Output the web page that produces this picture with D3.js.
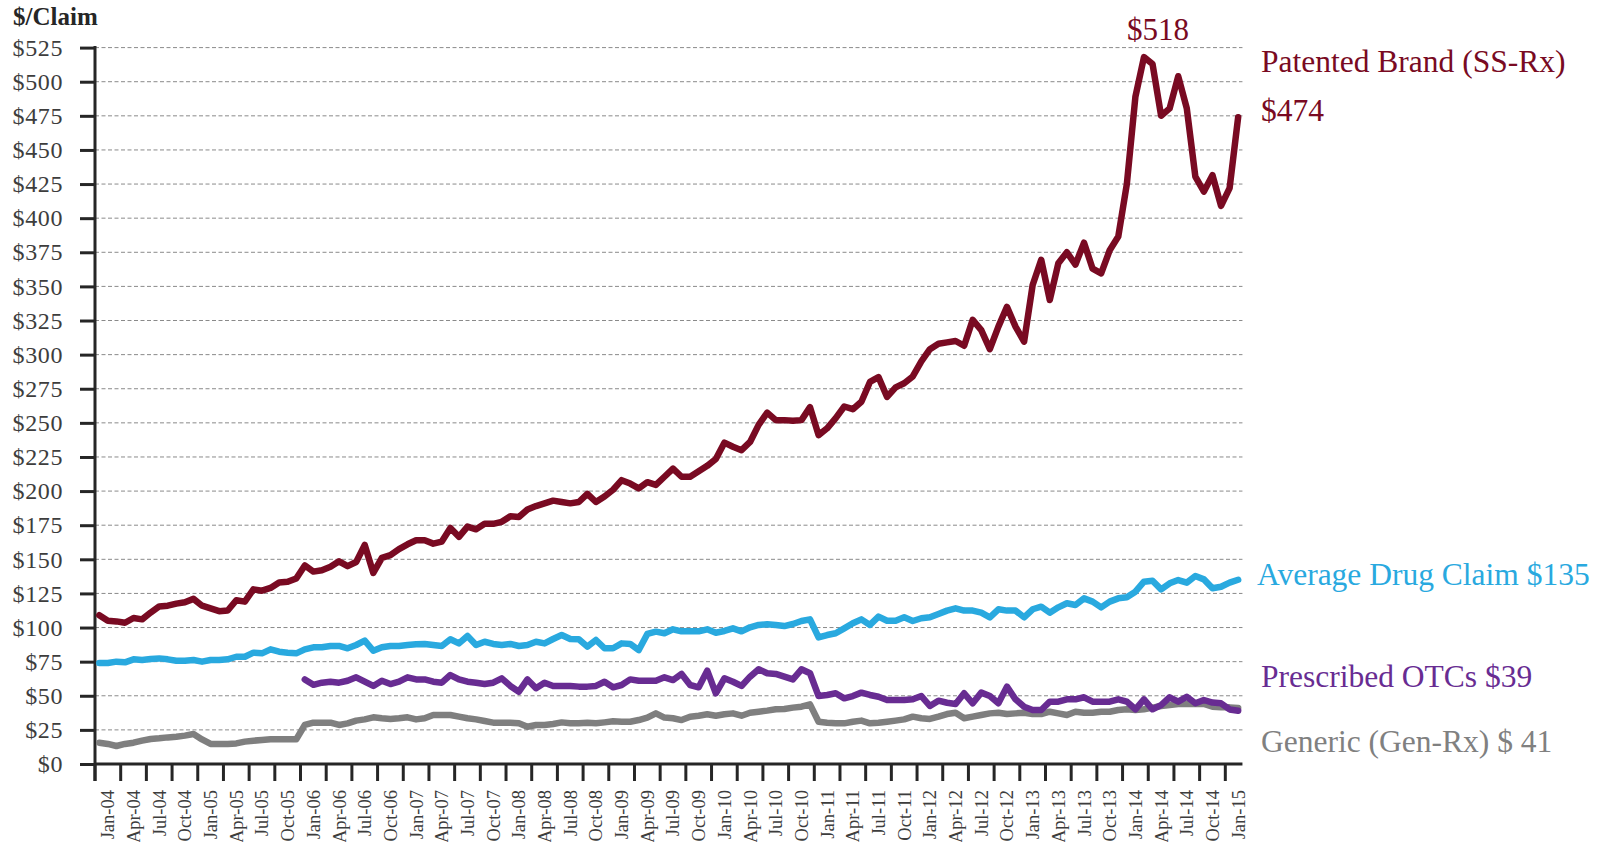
<!DOCTYPE html>
<html>
<head>
<meta charset="utf-8">
<script src="https://cdn.jsdelivr.net/npm/d3@7"></script>
<style>
  body { margin: 0; background: #fff; }
  text { font-family: "Liberation Serif", "Times New Roman", serif; }
</style>
</head>
<body>
<div id="chart"></div>
<script>
// monthly categories, Jan-04 .. Feb-15
var months = d3.timeMonth.range(new Date(2004, 0, 1), new Date(2015, 2, 1));

// $/claim, patented brand (SS-Rx)
var patented = [109,105,104.5,103.5,107,106,111,115.5,116,117.5,118.5,121,
  116,114,112,112.5,120,119,128,127,129,133,133.5,136,
  145.5,141,142,144.5,148.5,145,148,160.5,140,151,153,157.5,
  161,164,164,161.5,163,173,166.5,174,172,176,176,177.5,
  181.5,181,186.5,189,191,193,192,191,192,198,192,196,
  201,208,205.5,202,206.5,204.5,210.5,216.5,210.5,210.5,214.5,218.5,
  223.5,235.5,232.5,230,236,248.5,257.5,252,252,251.5,252,261.5,
  241,246,253.5,262,260,265.5,280,283.5,269,276,279,284,
  295,304,308,309,310,306.5,325.5,318,304,320.5,335,320.5,
  309.5,351,369.5,340,367,375,366,382,363,359.5,376.5,386.5,
  425,489,518,513,475,480.5,504,480.5,430.5,419.5,431.5,409,
  422,474];

// average drug claim
var average = [74,74,75,74.5,76.7,76.2,77,77.4,76.7,75.7,75.7,76.2,
  75,76.2,76.2,76.7,78.6,78.6,81.6,81.1,84,82.3,81.6,81.1,
  84,85.5,85.5,86.5,86.5,84.8,87.2,90.4,83,85.5,86.5,86.5,
  87.2,87.7,88,87.2,86.5,91.4,88.4,93.8,87.2,89.6,88,87.2,
  88,86.5,87.2,89.6,88.4,91.6,94.5,91.6,91.4,86,90.9,84.8,
  84.8,88.4,88,83.5,95.3,97,95.8,98.7,97.2,97.2,97.2,98.7,
  96.2,97.5,99.4,97.2,100.2,101.9,102.4,101.9,101.1,102.6,104.8,106,
  92.8,94.5,95.8,99.4,103.1,106,101.9,108,105,105,107.5,104.8,
  106.8,107.5,109.9,112.4,114.1,112.4,112.4,110.9,107.5,113.4,112.4,112.4,
  107.5,113.4,115.3,110.9,114.8,117.8,116.5,121.4,119,114.8,119,121.4,
  122.2,126.3,133.6,134.3,128,132.4,134.8,132.9,137.8,135.3,128.8,129.9,
  132.9,135];

// generic (Gen-Rx)
var generic = [15.6,14.7,13.2,14.7,15.6,17.1,18.3,18.8,19.5,20,20.8,22,
  18,14.7,14.7,14.7,15.1,16.4,17.1,17.6,18.1,18.1,18.1,18.1,
  28.6,30.3,30.3,30.3,28.6,29.8,31.8,32.7,34.2,33.5,33,33.5,
  34.2,32.7,33.5,35.9,35.9,35.9,34.7,33.5,32.7,31.5,30.3,30.3,
  30.3,29.8,27.3,28.6,28.6,29.3,30.5,29.8,29.8,30.3,29.8,30.5,
  31.3,31,31,32.2,34,37.1,34,33.5,32.2,34.7,35.4,36.4,
  35.4,36.4,37.1,35.4,37.6,38.3,39.1,40.1,40.3,41.3,42,43.7,
  31,30.3,29.8,29.8,31,31.8,29.8,30.3,31,31.8,32.7,34.7,
  33.5,33,34.7,36.6,37.6,33.5,34.7,35.9,37.1,37.6,36.6,37.1,
  37.6,36.6,36.6,38.3,37.1,35.9,38.3,37.6,37.6,38.3,38.3,39.6,
  40.1,39.6,40.1,41.3,42.5,43.2,44,44,44,44,42,41.5,
  41.5,41];

// prescribed OTCs, starts Jan-06
var otcStart = 24;
var otc = [62,58,59.6,60.3,59.6,61,63.5,60.3,57.2,61,58.6,60.3,
  63.5,62,62,60.3,59.6,65.2,62,60.3,59.6,58.6,59.6,62.8,
  57.2,53,62,55.5,59.6,57.2,57.2,57.2,56.7,56.7,57.2,60.3,
  56.2,57.9,62,61,61,61,63.5,61.5,66,57.9,56.2,68.4,
  51.8,62.8,60.3,57.2,64,69.4,66.5,66,64,62,69.4,66.5,
  49.8,50.6,51.8,48.1,49.8,52.3,50.6,49.3,46.9,46.9,46.9,47.4,
  49.8,42.5,46.4,44.9,44,51.8,44.5,52.3,49.8,44.5,56.7,47.4,
  42,39.6,39.6,45.7,45.7,47.4,47.4,48.9,45.7,45.7,45.7,47.4,
  45.7,40.1,47.4,40.1,43.2,48.9,45.7,49.3,44.5,46.9,45,44.5,
  40,39];

var yTicks = d3.range(0, 526, 25);

var width = 1598, height = 842;
var plotLeft = 95, plotRight = 95 + months.length * 8.563, plotTop = 47.6, plotBottom = 764;

var svg = d3.select("#chart").append("svg")
    .attr("width", width)
    .attr("height", height);

var x = d3.scaleBand()
    .domain(d3.range(months.length))
    .range([plotLeft, plotRight]);
var bw = x.bandwidth();

var y = d3.scaleLinear()
    .domain([0, 525])
    .range([plotBottom, plotTop]);

// dashed gridlines
svg.selectAll("line.grid")
    .data(yTicks.filter(function (d) { return d > 0; }))
    .enter()
    .append("line")
    .attr("x1", plotLeft)
    .attr("x2", plotRight)
    .attr("y1", function (d) { return y(d); })
    .attr("y2", function (d) { return y(d); })
    .attr("stroke", "#8a8a8a")
    .attr("stroke-width", 1)
    .attr("stroke-dasharray", "4,2.5");

// y axis
var yAxis = svg.append("g")
    .attr("transform", "translate(" + plotLeft + ",0)")
    .call(d3.axisLeft(y).tickValues(yTicks).tickSize(15).tickPadding(17)
        .tickFormat(function (d) { return "$" + d; }));
yAxis.select(".domain").remove();
yAxis.selectAll(".tick line").attr("stroke", "#262626").attr("stroke-width", 3);
yAxis.selectAll(".tick text")
    .attr("fill", "#3d3d3d")
    .style("font-size", "24px")
    .style("letter-spacing", "0.6px")
    .style("font-family", "'Liberation Serif', serif");

svg.append("line")
    .attr("x1", plotLeft).attr("x2", plotLeft)
    .attr("y1", plotTop - 1.5).attr("y2", plotBottom + 17)
    .attr("stroke", "#262626").attr("stroke-width", 3);

// x axis
svg.append("line")
    .attr("x1", plotLeft).attr("x2", plotRight)
    .attr("y1", plotBottom).attr("y2", plotBottom)
    .attr("stroke", "#262626").attr("stroke-width", 3);

var tickIdx = d3.range(0, months.length, 3);
svg.selectAll("line.xtick")
    .data(tickIdx)
    .enter()
    .append("line")
    .attr("x1", function (d) { return x(d); })
    .attr("x2", function (d) { return x(d); })
    .attr("y1", plotBottom)
    .attr("y2", plotBottom + 17)
    .attr("stroke", "#262626")
    .attr("stroke-width", 3);

var fmt = d3.timeFormat("%b-%y");
svg.selectAll("text.xlab")
    .data(tickIdx)
    .enter()
    .append("text")
    .attr("transform", function (d) {
        var cx = x(Math.min(d + 1, months.length - 1)) + bw / 2;
        return "translate(" + cx + "," + (plotBottom + 26) + ") rotate(-90)";
    })
    .attr("dy", "0.35em")
    .attr("text-anchor", "end")
    .attr("fill", "#3d3d3d")
    .style("font-size", "18.5px")
    .text(function (d) { return fmt(months[d]); });

// y axis title
svg.append("text")
    .attr("x", 13)
    .attr("y", 25)
    .attr("fill", "#262626")
    .style("font-size", "25px")
    .style("font-weight", "bold")
    .text("$/Claim");

// lines
var line = d3.line()
    .x(function (d) { return x(d.i) + bw / 2; })
    .y(function (d) { return y(d.v); });

function pts(arr, offset) {
    return arr.map(function (v, k) { return {i: k + offset, v: v}; });
}

var series = [
    {name: "generic", data: pts(generic, 0), color: "#7f7f7f"},
    {name: "average", data: pts(average, 0), color: "#29a9df"},
    {name: "otc", data: pts(otc, otcStart), color: "#682c92"},
    {name: "patented", data: pts(patented, 0), color: "#790a22"}
];

svg.selectAll("path.series")
    .data(series)
    .enter()
    .append("path")
    .attr("d", function (d) { return line(d.data); })
    .attr("fill", "none")
    .attr("stroke", function (d) { return d.color; })
    .attr("stroke-width", 6.5)
    .attr("stroke-linejoin", "round")
    .attr("stroke-linecap", "round");

// annotations
var peak = d3.max(patented);
var peakIdx = patented.indexOf(peak);
svg.append("text")
    .attr("x", x(peakIdx) + bw / 2 + 14)
    .attr("y", 40)
    .attr("text-anchor", "middle")
    .attr("fill", "#790a22")
    .style("font-size", "31px")
    .text("$" + peak);

var labels = [
    {text: "Patented Brand (SS-Rx)", x: 1261, y: 72, color: "#790a22"},
    {text: "$" + patented[patented.length - 1], x: 1261, y: 121, color: "#790a22"},
    {text: "Average Drug Claim $" + average[average.length - 1], x: 1257, y: 585, color: "#29a9df"},
    {text: "Prescribed OTCs $" + otc[otc.length - 1], x: 1261, y: 687, color: "#682c92"},
    {text: "Generic (Gen-Rx) $ " + generic[generic.length - 1], x: 1261, y: 752, color: "#808080"}
];
svg.selectAll("text.lab")
    .data(labels)
    .enter()
    .append("text")
    .attr("x", function (d) { return d.x; })
    .attr("y", function (d) { return d.y; })
    .attr("fill", function (d) { return d.color; })
    .style("font-size", "31.5px")
    .text(function (d) { return d.text; });
</script>
</body>
</html>
